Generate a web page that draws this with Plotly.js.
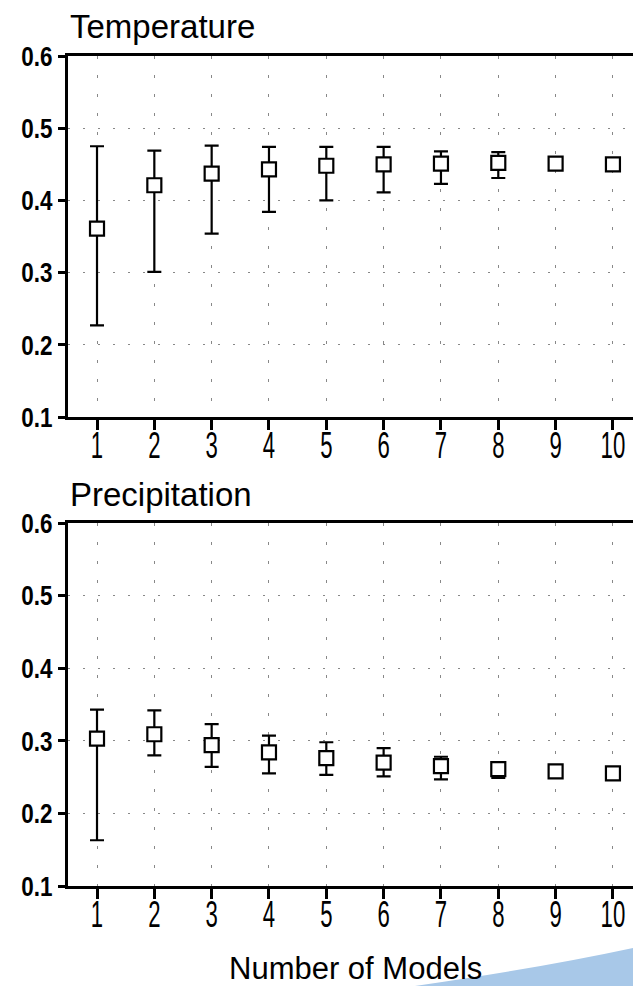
<!DOCTYPE html>
<html>
<head>
<meta charset="utf-8">
<script src="https://cdn.plot.ly/plotly-3.0.1.min.js"></script>
<style>html,body{margin:0;padding:0;background:#fff;}#chart{width:633px;height:986px;}</style>
</head>
<body>
<div id="chart"></div>
<script>
// ---- data ----
var nModels = [1, 2, 3, 4, 5, 6, 7, 8, 9, 10];
var xTickLabels = ["1", "2", "3", "4", "5", "6", "7", "8", "9", "10"];
var yTickVals = [0.1, 0.2, 0.3, 0.4, 0.5, 0.6];
var yTickLabels = ["0.1", "0.2", "0.3", "0.4", "0.5", "0.6"];

var tempMean  = [0.361, 0.421, 0.437, 0.443, 0.448, 0.450, 0.451, 0.452, 0.451, 0.450];
var tempUpper = [0.475, 0.469, 0.476, 0.474, 0.474, 0.474, 0.468, 0.467, null, null];
var tempLower = [0.227, 0.301, 0.354, 0.384, 0.400, 0.411, 0.423, 0.431, null, null];

var precMean  = [0.303, 0.309, 0.294, 0.284, 0.276, 0.270, 0.265, 0.261, 0.258, 0.255];
var precUpper = [0.343, 0.342, 0.323, 0.307, 0.298, 0.290, 0.278, 0.267, null, null];
var precLower = [0.163, 0.280, 0.264, 0.255, 0.253, 0.251, 0.247, 0.249, null, null];

var panelTitles = ["Temperature", "Precipitation"];
var xAxisTitle = "Number of Models";

// ---- helpers ----
function diffs(a, b) { return a.map(function (v, i) { return (v === null || b[i] === null) ? null : Math.abs(v - b[i]); }); }

var W = 633, H = 986;
function py(p) { return 1 - p / H; }

var FAM = "Liberation Sans, Arial, sans-serif";
var yTickFont = {family: FAM, size: 28, color: "#000", weight: "bold"};
var xTickFont = {family: FAM, size: 37, color: "#000"};
var titleFont = {family: FAM, size: 33, color: "#000"};
var axTitleFont = {family: FAM, size: 31, color: "#000"};

function errTrace(mean, up, lo, xa, ya) {
  return {
    x: nModels, y: mean, xaxis: xa, yaxis: ya, type: "scatter", mode: "markers",
    marker: {size: 2, color: "rgba(0,0,0,0)"},
    error_y: {type: "data", symmetric: false, array: diffs(up, mean), arrayminus: diffs(mean, lo),
              color: "#000", thickness: 2.2, width: 7},
    hoverinfo: "skip", showlegend: false
  };
}
function markTrace(mean, xa, ya) {
  return {
    x: nModels, y: mean, xaxis: xa, yaxis: ya, type: "scatter", mode: "markers",
    marker: {symbol: "square", size: 14, color: "#fff", line: {color: "#000", width: 2.2}},
    showlegend: false
  };
}

var data = [
  errTrace(tempMean, tempUpper, tempLower, "x", "y"),
  markTrace(tempMean, "x", "y"),
  errTrace(precMean, precUpper, precLower, "x2", "y2"),
  markTrace(precMean, "x2", "y2")
];

var xRange = [0.494, 10.35];
function xax(anchor) {
  return {
    domain: [68 / W, 1], range: xRange, anchor: anchor,
    tickmode: "array", tickvals: nModels, ticktext: xTickLabels,
    ticks: "outside", ticklen: 10, tickwidth: 3, tickcolor: "#000",
    showline: true, linewidth: 3, linecolor: "#000", mirror: true,
    showgrid: true, gridcolor: "#888", gridwidth: 1, griddash: "3px,16px",
    zeroline: false, tickfont: xTickFont, ticklabeloverflow: "allow", fixedrange: true
  };
}
function yax(anchor, d) {
  return {
    domain: d, range: [0.1, 0.6], anchor: anchor,
    tickmode: "array", tickvals: yTickVals, ticktext: yTickLabels,
    ticks: "outside", ticklen: 7, tickwidth: 3, tickcolor: "#000",
    showline: true, linewidth: 3, linecolor: "#000",
    showgrid: true, gridcolor: "#888", gridwidth: 1, griddash: "2px,13px",
    zeroline: false, tickfont: yTickFont, ticklabeloverflow: "allow", fixedrange: true
  };
}

var layout = {
  width: W, height: H,
  margin: {l: 0, r: 0, t: 0, b: 0},
  paper_bgcolor: "#fff", plot_bgcolor: "#fff",
  showlegend: false,
  xaxis: xax("y"),
  yaxis: yax("x", [py(417), py(56)]),
  xaxis2: xax("y2"),
  yaxis2: yax("x2", [py(886), py(523)]),
  annotations: [
    {text: panelTitles[0], xref: "paper", yref: "paper", x: 68 / W, y: py(47), xanchor: "left", yanchor: "bottom", showarrow: false, font: titleFont},
    {text: panelTitles[1], xref: "paper", yref: "paper", x: 68 / W, y: py(515), xanchor: "left", yanchor: "bottom", showarrow: false, font: titleFont},
    {text: xAxisTitle, xref: "paper", yref: "paper", x: 355 / W, y: py(988), xanchor: "center", yanchor: "bottom", showarrow: false, font: axTitleFont}
  ],
  shapes: [
    {type: "path", xref: "paper", yref: "paper", layer: "below",
     path: "M " + (415 / W) + " " + py(986) + " Q " + (540 / W) + " " + py(968) + " " + (633 / W) + " " + py(948) + " L 1 0 Z",
     fillcolor: "#a8c8e8", line: {width: 0}}
  ]
};

function condense(selector, factor, dy) {
  document.querySelectorAll(selector).forEach(function (t) {
    var w = t.getComputedTextLength();
    t.setAttribute("textLength", (w * factor).toFixed(1));
    t.setAttribute("lengthAdjust", "spacingAndGlyphs");
    if (dy) {
      var tr = t.getAttribute("transform") || "";
      t.setAttribute("transform", tr + " translate(0," + dy + ")");
    }
  });
}

Plotly.newPlot("chart", data, layout, {displayModeBar: false, staticPlot: true}).then(function () {
  condense(".xtick text, .x2tick text", 0.6, -16);
  condense(".ytick text, .y2tick text", 0.8, 0);
});
</script>
</body>
</html>
